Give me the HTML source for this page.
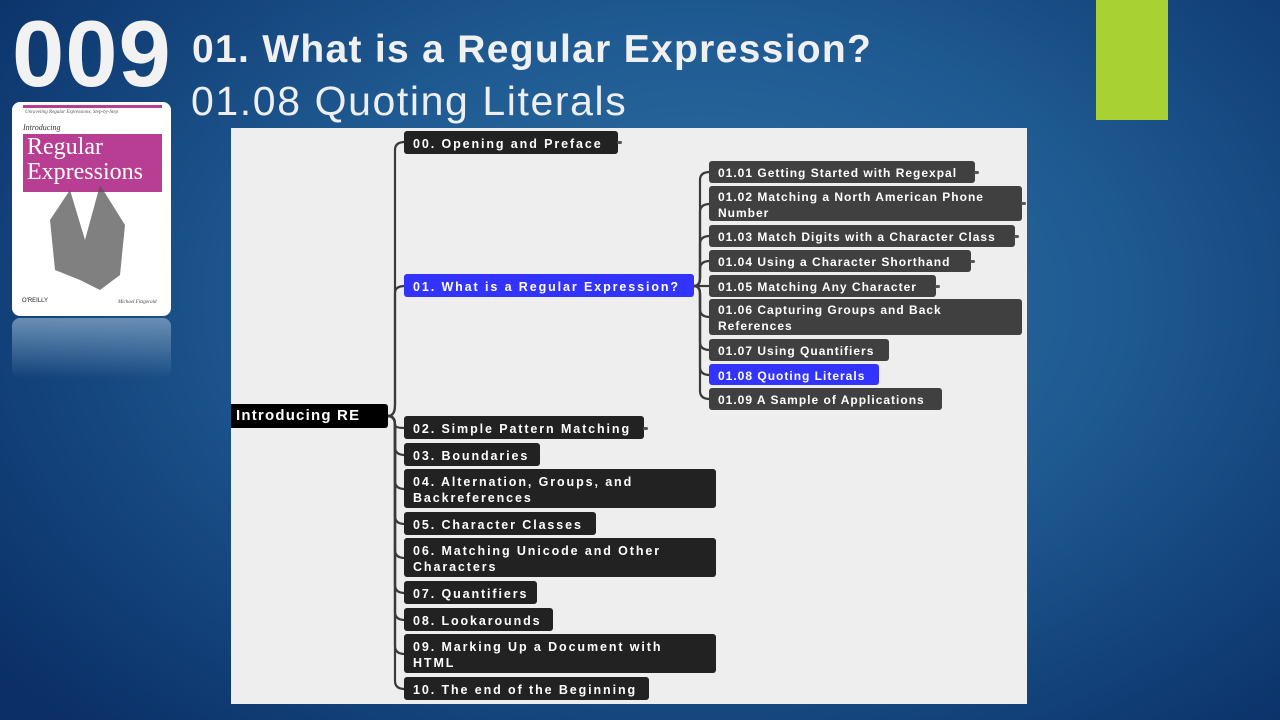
<!DOCTYPE html>
<html><head><meta charset="utf-8"><style>
*{margin:0;padding:0;box-sizing:border-box}
body{width:1280px;height:720px;overflow:hidden;position:relative;font-family:"Liberation Sans",sans-serif;
background:radial-gradient(ellipse 900px 600px at 700px 300px,#2f6fa3 0%,#1f5b92 45%,#0f3a72 85%,#0b2f66 100%);}
.a{position:absolute}
.n{position:absolute;color:#fff;font-size:12.5px;letter-spacing:1.9px;border-radius:3px;padding:5px 0 0 9px;line-height:16px;font-weight:bold;white-space:nowrap}
.l1{background:#222}
.l2{background:#404040;font-weight:bold;letter-spacing:1.0px;font-size:12px}
.bl{background:#3333ff}
.dot{position:absolute;width:5px;height:3px;background:#555;border-radius:2px}
</style></head><body>
<div class="a" style="left:1096px;top:0;width:72px;height:120px;background:#a8d234"></div>
<div class="a" style="left:12px;top:4px;font-size:94px;font-weight:bold;color:#f2f2f2;letter-spacing:1px;line-height:100px">009</div>
<div class="a" style="left:192px;top:27px;font-size:39px;font-weight:bold;color:#f0f0f0;line-height:46px;letter-spacing:1.3px">01. What is a Regular Expression?</div>
<div class="a" style="left:191px;top:77px;font-size:41px;color:#eeeeee;line-height:48px;letter-spacing:1.6px">01.08 Quoting Literals</div>
<!-- book -->
<div class="a" style="left:12px;top:102px;width:159px;height:214px;background:#fff;border-radius:8px"></div>
<div class="a" style="left:23px;top:105px;width:139px;height:3px;background:#b83e94"></div>
<div class="a" style="left:25px;top:110px;font-size:5px;color:#555;font-family:'Liberation Serif',serif;font-style:italic">Unraveling Regular Expressions, Step-by-Step</div>
<div class="a" style="left:23px;top:123px;font-size:8px;color:#333;font-family:'Liberation Serif',serif;font-style:italic">Introducing</div>
<div class="a" style="left:23px;top:134px;width:139px;height:58px;background:#b83e94;color:#fff;font-family:'Liberation Serif',serif;font-size:24px;line-height:25px;padding:1px 0 0 4px">Regular<br>Expressions</div>
<svg class="a" style="left:40px;top:180px" width="100" height="120"><path d="M10 40 L30 10 L45 60 L60 5 L85 45 L80 95 L60 110 L40 100 L15 90 Z" fill="#555" opacity="0.75"/></svg>
<div class="a" style="left:22px;top:298px;font-size:6px;color:#222">O'REILLY</div>
<div class="a" style="left:118px;top:300px;font-size:5px;color:#444;font-style:italic;font-family:'Liberation Serif',serif">Michael Fitzgerald</div>
<div class="a" style="left:12px;top:318px;width:159px;height:60px;border-radius:8px;background:linear-gradient(#6a8fb5,rgba(40,90,140,0))"></div>
<!-- panel -->
<div class="a" style="left:231px;top:128px;width:796px;height:576px;background:#eeeeee"></div>
<svg class="a" style="left:0;top:0" width="1280" height="720" fill="none" stroke="#3a3a3a" stroke-width="2.2">
<g>
<path d="M388 416 Q395 416 395 405 L395 150 Q395 142 405 142"/>
<path d="M388 416 Q395 416 395 405 L395 293 Q395 286 405 286"/>
<path d="M388 416 Q395 416 395 425 Q395 428 405 428"/>
<path d="M388 416 Q395 416 395 425 L395 447 Q395 455 405 455"/>
<path d="M388 416 Q395 416 395 425 L395 481 Q395 489 405 489"/>
<path d="M388 416 Q395 416 395 425 L395 516 Q395 524 405 524"/>
<path d="M388 416 Q395 416 395 425 L395 550 Q395 558 405 558"/>
<path d="M388 416 Q395 416 395 425 L395 585 Q395 593 405 593"/>
<path d="M388 416 Q395 416 395 425 L395 612 Q395 620 405 620"/>
<path d="M388 416 Q395 416 395 425 L395 646 Q395 654 405 654"/>
<path d="M388 416 Q395 416 395 425 L395 681 Q395 689 405 689"/>
</g>
<g>
<path d="M694 286 Q700 286 700 278 L700 180 Q700 172 710 172"/>
<path d="M694 286 Q700 286 700 278 L700 212 Q700 204 710 204"/>
<path d="M694 286 Q700 286 700 278 L700 244 Q700 236 710 236"/>
<path d="M694 286 Q700 286 700 278 L700 269 Q700 261 710 261"/>
<path d="M694 286 L710 286"/>
<path d="M694 286 Q700 286 700 294 L700 309 Q700 317 710 317"/>
<path d="M694 286 Q700 286 700 294 L700 342 Q700 350 710 350"/>
<path d="M694 286 Q700 286 700 294 L700 367 Q700 375 710 375"/>
<path d="M694 286 Q700 286 700 294 L700 391 Q700 399 710 399"/>
</g>
</svg>
<div class="a" style="left:231px;top:404px;width:157px;height:24px;background:#000;color:#fff;font-weight:bold;font-size:15px;padding:3px 0 0 5px;letter-spacing:1.2px;border-radius:0 3px 3px 0">Introducing RE</div>
<div class="n l1" style="left:404px;top:131px;width:214px;height:23px">00. Opening and Preface</div>
<div class="n bl" style="left:404px;top:274px;width:290px;height:23px">01. What is a Regular Expression?</div>
<div class="n l1" style="left:404px;top:416px;width:240px;height:23px">02. Simple Pattern Matching</div>
<div class="n l1" style="left:404px;top:443px;width:136px;height:23px">03. Boundaries</div>
<div class="n l1" style="left:404px;top:469px;width:312px;height:39px">04. Alternation, Groups, and<br>Backreferences</div>
<div class="n l1" style="left:404px;top:512px;width:192px;height:23px">05. Character Classes</div>
<div class="n l1" style="left:404px;top:538px;width:312px;height:39px">06. Matching Unicode and Other<br>Characters</div>
<div class="n l1" style="left:404px;top:581px;width:133px;height:23px">07. Quantifiers</div>
<div class="n l1" style="left:404px;top:608px;width:149px;height:23px">08. Lookarounds</div>
<div class="n l1" style="left:404px;top:634px;width:312px;height:39px">09. Marking Up a Document with<br>HTML</div>
<div class="n l1" style="left:404px;top:677px;width:245px;height:23px">10. The end of the Beginning</div>
<div class="n l2" style="left:709px;top:161px;width:266px;height:22px;padding-top:4px">01.01 Getting Started with Regexpal</div>
<div class="n l2" style="left:709px;top:186px;width:313px;height:35px;padding-top:3px">01.02 Matching a North American Phone<br>Number</div>
<div class="n l2" style="left:709px;top:225px;width:306px;height:22px;padding-top:4px">01.03 Match Digits with a Character Class</div>
<div class="n l2" style="left:709px;top:250px;width:262px;height:22px;padding-top:4px">01.04 Using a Character Shorthand</div>
<div class="n l2" style="left:709px;top:275px;width:227px;height:22px;padding-top:4px">01.05 Matching Any Character</div>
<div class="n l2" style="left:709px;top:299px;width:313px;height:36px;padding-top:3px">01.06 Capturing Groups and Back<br>References</div>
<div class="n l2" style="left:709px;top:339px;width:180px;height:22px;padding-top:4px">01.07 Using Quantifiers</div>
<div class="n l2 bl" style="left:709px;top:364px;width:170px;height:21px;padding-top:4px">01.08 Quoting Literals</div>
<div class="n l2" style="left:709px;top:388px;width:233px;height:22px;padding-top:4px">01.09 A Sample of Applications</div>
<div class="dot" style="left:617px;top:141px"></div>
<div class="dot" style="left:643px;top:427px"></div>
<div class="dot" style="left:974px;top:171px"></div>
<div class="dot" style="left:1021px;top:202px"></div>
<div class="dot" style="left:1014px;top:235px"></div>
<div class="dot" style="left:970px;top:260px"></div>
<div class="dot" style="left:935px;top:285px"></div>
</body></html>
